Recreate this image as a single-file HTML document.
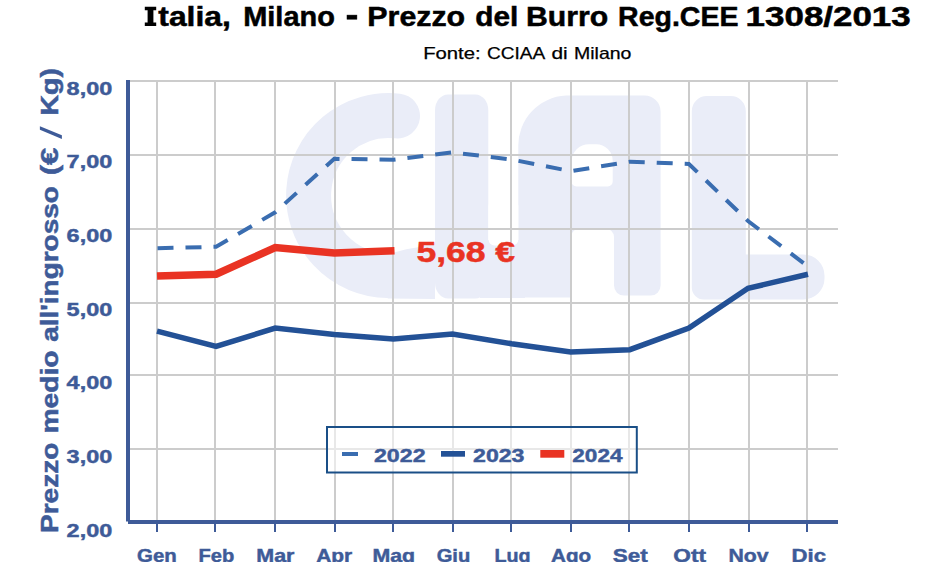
<!DOCTYPE html>
<html><head><meta charset="utf-8">
<style>
html,body{margin:0;padding:0;background:#fff;width:950px;height:580px;overflow:hidden}
svg{display:block}
text{font-family:"Liberation Sans",sans-serif;font-weight:bold}
.n text{font-weight:normal}
</style></head>
<body>
<svg width="950" height="580" viewBox="0 0 950 580">
<rect width="950" height="580" fill="#fff"/>
<!-- watermark CLAL -->
<g fill="#eaedf8" stroke="none">
  <path d="M397.5 116 A80 80 0 1 0 387.7 275.5" fill="none" stroke="#eaedf8" stroke-width="45" stroke-linecap="round"/>
  <path d="M387.7 253 L395 252.2 L406.3 249.3 L418.1 247.2 L435 243 L435 299 L387.7 298.5 Z"/>
  <rect x="435" y="94.4" width="53.3" height="204" rx="13" ry="16"/>
  <rect x="480" y="240" width="45" height="58"/>
  <path fill-rule="evenodd" d="M518.3 297.5 L518.3 147 A50 50 0 0 1 566 95.6 L644.6 95.6 A16 16 0 0 1 660.6 111.6 L660.6 285.6 A10 10 0 0 1 650.6 295.6 L624 295.6 A10 10 0 0 1 614 285.6 L614 237 A9 9 0 0 0 605 228.3 L580 228.3 A9 9 0 0 0 571 237 L571 297.5 Z
   M571.5 181.5 A5 5 0 0 0 576.5 186.5 L607.7 186.5 A5 5 0 0 0 612.7 181.5 L612.7 160.5 A16.5 16.5 0 0 0 596.2 144.2 L589 144.2 A17.5 17.5 0 0 0 571.5 161.7 Z"/>
  <rect x="488.5" y="200" width="29.8" height="45.5" rx="6" fill="#fff"/>
  <path d="M691.8 288 L691.8 111 A15 15 0 0 1 706.8 96 L730.8 96 A15 15 0 0 1 745.8 111 L745.8 254.5 L803.5 254.5 A21 21 0 0 1 824.5 275.5 L824.5 278.5 A21 21 0 0 1 803.5 299.4 L703.8 299.4 A12 12 0 0 1 691.8 287.4 Z"/>
</g>
<!-- grid -->
<g stroke="#cccccc" stroke-width="2" fill="none">
  <path d="M130 81H838M130 155H838M130 229H838M130 303H838M130 375H838M130 449H838"/>
  <path d="M157 80V520M215 80V520M275 80V520M335 80V520M393 80V520M453 80V520M511 80V520M571 80V520M629 80V520M689 80V520M749 80V520M807 80V520"/>
</g>
<!-- axes -->
<g fill="#3e5b98">
  <rect x="126" y="80" width="4" height="441.5"/>
  <rect x="128" y="520" width="710" height="4"/>
  <rect x="156" y="524" width="2" height="8"/>
  <rect x="214" y="524" width="2" height="8"/>
  <rect x="274" y="524" width="2" height="8"/>
  <rect x="334" y="524" width="2" height="8"/>
  <rect x="392" y="524" width="2" height="8"/>
  <rect x="452" y="524" width="2" height="8"/>
  <rect x="510" y="524" width="2" height="8"/>
  <rect x="570" y="524" width="2" height="8"/>
  <rect x="628" y="524" width="2" height="8"/>
  <rect x="688" y="524" width="2" height="8"/>
  <rect x="748" y="524" width="2" height="8"/>
  <rect x="806" y="524" width="2" height="8"/>
</g>
<!-- series -->
<polyline fill="none" stroke="#3a6db0" stroke-width="4" stroke-dasharray="16 12" points="157.5,248.2 216.1,246.8 275.2,212.3 334.3,158.8 393.4,159.8 452.5,152.4 511.6,159.5 570.7,171.2 629.8,161.7 688.9,164 748.0,221 807.1,265.8"/>
<polyline fill="none" stroke="#235196" stroke-width="5.5" stroke-linejoin="miter" points="157.0,331.1 216.1,346.4 275.2,328.1 334.3,334.6 393.4,339 452.5,334 511.6,343.7 570.7,352 629.8,349.7 688.9,328 748.0,288.3 808,274.3"/>
<polyline fill="none" stroke="#e93323" stroke-width="7.5" points="157.0,276.1 216.1,274.2 275.2,247.6 334.3,253 394.5,250.7"/>
<!-- legend -->
<rect x="327" y="427" width="309.8" height="45.5" fill="#fff" fill-opacity="0.55" stroke="#1a4f87" stroke-width="2"/>
<rect x="342" y="452" width="16" height="4" fill="#3a6db0"/>
<rect x="441" y="451" width="24" height="5.7" fill="#235196"/>
<rect x="540.3" y="450" width="24" height="7.7" fill="#e93323"/>
<g fill="#3e5b98" stroke="#3e5b98" stroke-width="0.45" font-size="18.5">
  <text x="373.95" y="462" textLength="51.6" lengthAdjust="spacingAndGlyphs">2022</text>
  <text x="473.05" y="462" textLength="51.4" lengthAdjust="spacingAndGlyphs">2023</text>
  <text x="572.3" y="462" textLength="50.2" lengthAdjust="spacingAndGlyphs">2024</text>
</g>
<!-- value label -->
<text x="416.4" y="262.2" fill="#e93323" stroke="#e93323" stroke-width="0.5" font-size="30" textLength="98.7" lengthAdjust="spacingAndGlyphs">5,68 €</text>
<!-- y labels -->
<g fill="#3e5b98" stroke="#3e5b98" stroke-width="0.45" font-size="18.6">
  <text x="66.6" y="95" textLength="45.66" lengthAdjust="spacingAndGlyphs">8,00</text>
  <text x="66.6" y="168" textLength="45.66" lengthAdjust="spacingAndGlyphs">7,00</text>
  <text x="66.6" y="242" textLength="45.66" lengthAdjust="spacingAndGlyphs">6,00</text>
  <text x="66.6" y="316" textLength="45.66" lengthAdjust="spacingAndGlyphs">5,00</text>
  <text x="66.6" y="389" textLength="45.66" lengthAdjust="spacingAndGlyphs">4,00</text>
  <text x="66.6" y="463" textLength="45.66" lengthAdjust="spacingAndGlyphs">3,00</text>
  <text x="66.6" y="537" textLength="45.66" lengthAdjust="spacingAndGlyphs">2,00</text>
</g>
<!-- x labels -->
<svg x="0" y="0" width="950" height="562" overflow="hidden">
<g fill="#3e5b98" stroke="#3e5b98" stroke-width="0.45" font-size="18.4">
  <text x="137.1" y="562" textLength="39.69" lengthAdjust="spacingAndGlyphs">Gen</text>
  <text x="198.5" y="562" textLength="35.75" lengthAdjust="spacingAndGlyphs">Feb</text>
  <text x="256.3" y="562" textLength="38.2" lengthAdjust="spacingAndGlyphs">Mar</text>
  <text x="316.2" y="562" textLength="35.99" lengthAdjust="spacingAndGlyphs">Apr</text>
  <text x="372.4" y="562" textLength="42.66" lengthAdjust="spacingAndGlyphs">Mag</text>
  <text x="436.7" y="562" textLength="33.61" lengthAdjust="spacingAndGlyphs">Giu</text>
  <text x="494.4" y="562" textLength="36.13" lengthAdjust="spacingAndGlyphs">Lug</text>
  <text x="551.1" y="562" textLength="40.1" lengthAdjust="spacingAndGlyphs">Ago</text>
  <text x="612.7" y="562" textLength="34.98" lengthAdjust="spacingAndGlyphs">Set</text>
  <text x="673.3" y="562" textLength="32.7" lengthAdjust="spacingAndGlyphs">Ott</text>
  <text x="728.4" y="562" textLength="40.14" lengthAdjust="spacingAndGlyphs">Nov</text>
  <text x="791.6" y="562" textLength="34.45" lengthAdjust="spacingAndGlyphs">Dic</text>
</g>
</svg>
<!-- y title -->
<g transform="translate(58,0) rotate(-90)" fill="#3e5b98" stroke="#3e5b98" stroke-width="0.5" font-size="24"><text x="-533.14" y="0" textLength="90.67" lengthAdjust="spacingAndGlyphs">Prezzo</text><text x="-433.55" y="0" textLength="83.16" lengthAdjust="spacingAndGlyphs">medio</text><text x="-341.86" y="0" textLength="155.62" lengthAdjust="spacingAndGlyphs">all'ingrosso</text><text x="-175.19" y="0" textLength="27.53" lengthAdjust="spacingAndGlyphs">(€</text><text x="-115.47" y="0" textLength="47.44" lengthAdjust="spacingAndGlyphs">Kg)</text></g>
<polygon fill="#3e5b98" points="39.9,126.2 61.9,135.3 61.9,138.9 39.9,129.8"/>
<!-- title -->
<g fill="#000" stroke="#000" stroke-width="0.5" font-size="27"><text x="158.3" y="26.1" textLength="72.5" lengthAdjust="spacingAndGlyphs">talia,</text><path stroke="none" d="M144.8 6.8H156.2V10.3H153.4V22.4H156.2V26.1H144.8V22.4H147.6V10.3H144.8Z"/><text x="243.26" y="26.1" textLength="91.58" lengthAdjust="spacingAndGlyphs">Milano</text><rect x="347" y="15.1" width="9.9" height="4.1"/><text x="367.35" y="26.1" textLength="97.81" lengthAdjust="spacingAndGlyphs">Prezzo</text><text x="475.2" y="26.1" textLength="43.03" lengthAdjust="spacingAndGlyphs">del</text><text x="526.06" y="26.1" textLength="82.2" lengthAdjust="spacingAndGlyphs">Burro</text><text x="618.09" y="26.1" textLength="120.4" lengthAdjust="spacingAndGlyphs">Reg.CEE</text><text x="745.61" y="26.1" textLength="165.12" lengthAdjust="spacingAndGlyphs">1308/2013</text></g>
<g class="n" fill="#000" stroke="#000" stroke-width="0.25" font-size="16.5"><text x="423.17" y="59.3" textLength="57.52" lengthAdjust="spacingAndGlyphs">Fonte:</text><text x="486.94" y="59.3" textLength="58.36" lengthAdjust="spacingAndGlyphs">CCIAA</text><text x="551.54" y="59.3" textLength="16.23" lengthAdjust="spacingAndGlyphs">di</text><text x="574.02" y="59.3" textLength="57.4" lengthAdjust="spacingAndGlyphs">Milano</text></g>
</svg>
</body></html>
